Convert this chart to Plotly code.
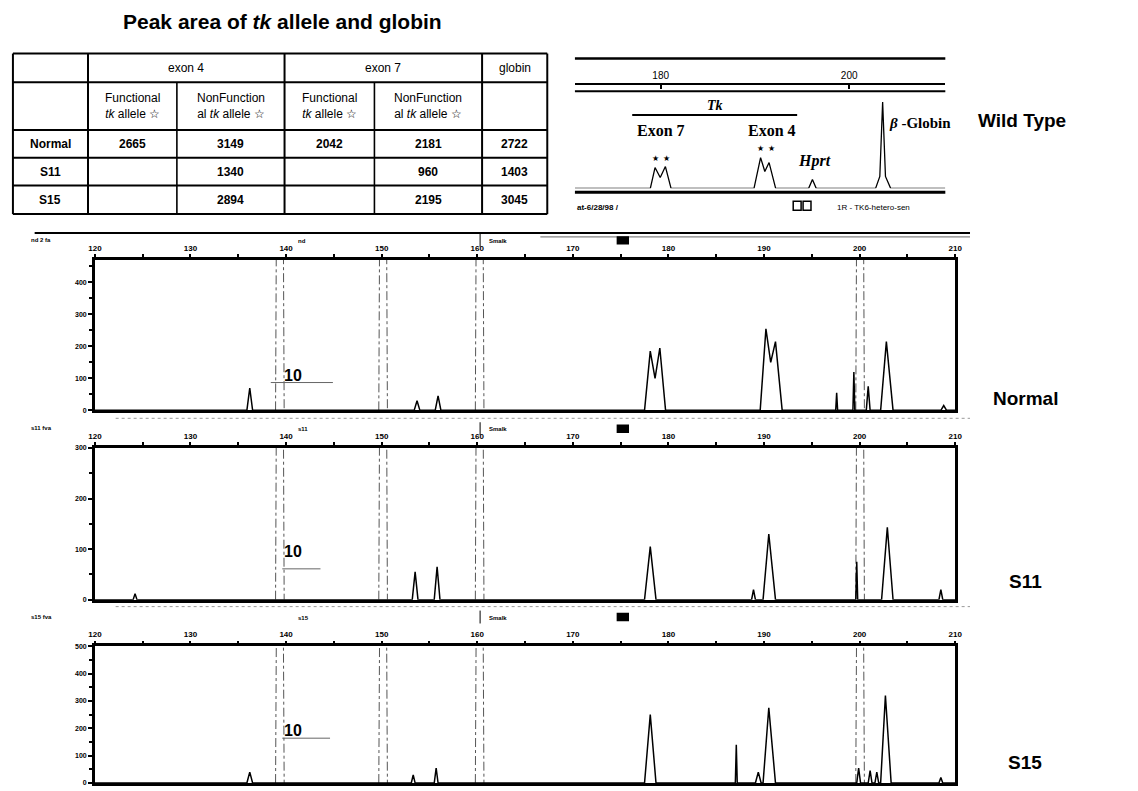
import plotly.graph_objects as go

W, H = 1138, 791
SANS = "Liberation Sans, Arial, sans-serif"
SERIF = "Liberation Serif, Times New Roman, serif"

# ---------------- table data ----------------
title_text = "Peak area of <i>tk</i> allele and globin"
group_headers = ["exon 4", "exon 7", "globin"]
sub_headers = ["Functional<br><i>tk</i> allele ☆", "NonFunction<br>al <i>tk</i> allele ☆",
               "Functional<br><i>tk</i> allele ☆", "NonFunction<br>al <i>tk</i> allele ☆", ""]
samples = ["Normal", "S11", "S15"]
exon4_functional = [2665, None, None]
exon4_nonfunctional = [3149, 1340, 2894]
exon7_functional = [2042, None, None]
exon7_nonfunctional = [2181, 960, 2195]
globin_area = [2722, 1403, 3045]

# ---------------- wild-type inset (size in bp, relative signal) ----------------
wt_size = [170.9, 178.9, 179.4, 179.95, 180.5, 181.1, 189.9, 190.6, 191.05, 191.5, 192.2,
           195.7, 196.1, 196.5, 202.8, 203.25, 203.55, 203.85, 204.4, 210.2]
wt_signal = [0, 0, 21, 11, 22, 0, 0, 31, 17, 26, 0,
             0, 9, 0, 0, 12, 87, 12, 0, 0]

# ---------------- electropherograms ----------------
normal_size = [120, 135.9, 136.2, 136.5, 153.4, 153.7, 154.0, 155.6, 155.9, 156.2,
               177.5, 178.1, 178.6, 179.1, 179.7, 189.6, 190.2, 190.7, 191.2, 191.9,
               197.5, 197.6, 197.7, 199.3, 199.4, 199.5, 200.7, 200.9, 201.1,
               202.2, 202.8, 203.5, 208.5, 208.8, 209.1, 210]
normal_signal = [0, 0, 70, 0, 0, 30, 0, 0, 45, 0,
                 0, 185, 100, 195, 0, 0, 255, 150, 215, 0,
                 0, 55, 0, 0, 120, 0, 0, 75, 0,
                 0, 215, 0, 0, 15, 0, 0]
normal_std_size = [138.9, 139.35, 139.8, None, 149.7, 150.15, 150.6, None,
                   159.8, 160.25, 160.7, None, 199.6, 200.05, 200.5]
normal_std_signal = [0, 3000, 0, None, 0, 3000, 0, None, 0, 3000, 0, None, 0, 3000, 0]

s11_size = [120, 124.0, 124.2, 124.4, 153.2, 153.5, 153.8, 155.5, 155.8, 156.1,
            177.5, 178.1, 178.7, 188.7, 188.9, 189.1, 189.9, 190.5, 191.2,
            199.6, 199.7, 199.8, 202.3, 202.9, 203.5, 208.3, 208.5, 208.7, 210]
s11_signal = [0, 0, 12, 0, 0, 55, 0, 0, 65, 0,
              0, 105, 0, 0, 20, 0, 0, 130, 0,
              0, 75, 0, 0, 143, 0, 0, 20, 0, 0]
s11_std_size = [138.9, 139.35, 139.8, None, 149.7, 150.15, 150.6, None,
                159.8, 160.25, 160.7, None, 199.6, 200.05, 200.5]
s11_std_signal = [0, 2000, 0, None, 0, 2000, 0, None, 0, 2000, 0, None, 0, 2000, 0]

s15_size = [120, 135.9, 136.2, 136.5, 153.1, 153.3, 153.5, 155.5, 155.7, 155.9,
            177.5, 178.1, 178.7, 187.0, 187.1, 187.2, 189.1, 189.4, 189.7,
            189.9, 190.5, 191.2, 199.7, 199.9, 200.1, 200.9, 201.1, 201.3,
            201.6, 201.8, 202.0, 202.2, 202.7, 203.3, 208.3, 208.5, 208.7, 210]
s15_signal = [0, 0, 40, 0, 0, 30, 0, 0, 55, 0,
              0, 250, 0, 0, 140, 0, 0, 40, 0,
              0, 275, 0, 0, 55, 0, 0, 45, 0,
              0, 40, 0, 0, 320, 0, 0, 20, 0, 0]
s15_std_size = [138.9, 139.35, 139.8, None, 149.7, 150.15, 150.6, None,
                159.8, 160.25, 160.7, None, 199.6, 200.05, 200.5]
s15_std_signal = [0, 3000, 0, None, 0, 3000, 0, None, 0, 3000, 0, None, 0, 3000, 0]

sample_names = ["Normal", "S11", "S15"]
file_tags = ["nd 2 fa", "s11 fva", "s15 fva"]
lane_tags = ["nd", "s11", "s15"]
y_max = [471, 300, 500]
marker_label = "10"
marker_y = [[108, 87], [96, 61], [193, 164]]          # label height, line height
marker_x = [[139.6, 138.4, 144.9], [139.6, 139.6, 143.6], [139.6, 139.6, 144.6]]

# ---------------- helpers ----------------
def px(x):
    return x / W

def py(y):
    return 1 - y / H

annotations = []
shapes = []

def text(x, y, s, size, bold=False, family=SANS, xanchor="center", color="black"):
    annotations.append(dict(x=px(x), y=py(y), xref="paper", yref="paper",
                            text=f"<b>{s}</b>" if bold else s, showarrow=False,
                            xanchor=xanchor, yanchor="middle",
                            font=dict(family=family, size=size, color=color)))

def hline(x0, x1, y, w=2, dash="solid", color="black"):
    shapes.append(dict(type="line", xref="paper", yref="paper", x0=px(x0), x1=px(x1),
                       y0=py(y), y1=py(y), line=dict(color=color, width=w, dash=dash)))

def vline(x, y0, y1, w=2, color="black"):
    shapes.append(dict(type="line", xref="paper", yref="paper", x0=px(x), x1=px(x),
                       y0=py(y0), y1=py(y1), line=dict(color=color, width=w)))

def rect(x0, y0, x1, y1, fill=None, w=1.5):
    shapes.append(dict(type="rect", xref="paper", yref="paper", x0=px(x0), x1=px(x1),
                       y0=py(y0), y1=py(y1), line=dict(color="black", width=w),
                       fillcolor=fill if fill else "rgba(0,0,0,0)"))

# ---------------- title & table ----------------
text(115, 18, title_text, 21, bold=True, xanchor="left")

col_x = [6, 82, 172, 281, 372, 481, 547]
row_y = [50, 79, 127, 155, 183, 212]
for yv in row_y:
    hline(col_x[0], col_x[-1], yv, w=2)
for i, xv in enumerate(col_x):
    if i in (2, 4):
        vline(xv, row_y[1], row_y[-1], w=1.6)
    else:
        vline(xv, row_y[0], row_y[-1], w=2)

TF = 12
text((col_x[1] + col_x[3]) / 2, (row_y[0] + row_y[1]) / 2, group_headers[0], TF)
text((col_x[3] + col_x[5]) / 2, (row_y[0] + row_y[1]) / 2, group_headers[1], TF)
text((col_x[5] + col_x[6]) / 2, (row_y[0] + row_y[1]) / 2, group_headers[2], TF)
for j, s in enumerate(sub_headers):
    if s:
        text((col_x[j + 1] + col_x[j + 2]) / 2, (row_y[1] + row_y[2]) / 2, s, TF)
columns = [exon4_functional, exon4_nonfunctional, exon7_functional, exon7_nonfunctional, globin_area]
for r, name in enumerate(samples):
    yc = (row_y[r + 2] + row_y[r + 3]) / 2
    text((col_x[0] + col_x[1]) / 2, yc, name, TF, bold=True)
    for j, col in enumerate(columns):
        if col[r] is not None:
            text((col_x[j + 1] + col_x[j + 2]) / 2, yc, str(col[r]), TF, bold=True)

# ---------------- figure ----------------
fig = go.Figure()

# inset
fig.add_trace(go.Scatter(x=wt_size, y=wt_signal, mode="lines", xaxis="x4", yaxis="y4",
                         line=dict(color="black", width=1.3), showlegend=False, hoverinfo="skip"))
hline(575, 950, 55, w=2.5)
hline(575, 950, 88, w=2)
hline(575, 950, 190, w=3)
hline(633, 800, 112, w=2)
text(717, 102, "<i>Tk</i>", 14, bold=True, family=SERIF)
text(662, 128, "Exon 7", 16, bold=True, family=SERIF)
text(775, 128, "Exon 4", 16, bold=True, family=SERIF)
for sx, sy in [(657, 156), (668, 156), (763, 146), (774, 146)]:
    text(sx, sy, "★", 8)
text(818, 158, "<i>Hprt</i>", 16, bold=True, family=SERIF)
text(891, 120, "<i>β</i> -Globin", 15, bold=True, family=SERIF, xanchor="left")
text(575, 205, "at-6/28/98 /", 8, bold=True, xanchor="left")
rect(796, 199, 804, 208)
rect(806, 199, 814, 208)
text(838, 205, "1R - TK6-hetero-sen", 8, xanchor="left")
text(1028, 118, "Wild Type", 19, bold=True)

# main panels
panel_geom = [(258, 410, 238, 398), (448, 601, 428, 583), (648, 786, 618, 765)]
traces = [(normal_size, normal_signal, normal_std_size, normal_std_signal),
          (s11_size, s11_signal, s11_std_size, s11_std_signal),
          (s15_size, s15_signal, s15_std_size, s15_std_signal)]
layout_axes = {}
X0, X1 = 89, 960
for i in range(3):
    top, bottom, hdr_y, lab_y = panel_geom[i]
    n = "" if i == 0 else str(i + 1)
    xs, ys, sxs, sys_ = traces[i]
    fig.add_trace(go.Scatter(x=sxs, y=sys_, mode="lines", xaxis="x" + n, yaxis="y" + n,
                             line=dict(color="#555", width=1, dash="dashdot"),
                             showlegend=False, hoverinfo="skip"))
    fig.add_trace(go.Scatter(x=xs, y=ys, mode="lines", xaxis="x" + n, yaxis="y" + n,
                             line=dict(color="black", width=1.5),
                             showlegend=False, hoverinfo="skip"))
    layout_axes["xaxis" + n] = dict(
        domain=[px(X0), px(X1)], range=[120, 210], anchor="y" + n, side="top",
        showline=True, linecolor="black", linewidth=2.5, mirror=True,
        ticks="outside", ticklen=3, tickwidth=2, tickcolor="black",
        tick0=120, dtick=10, tickfont=dict(family=SANS, size=8, color="black", weight="bold"),
        minor=dict(dtick=5, ticks="outside", ticklen=3, tickwidth=2, tickcolor="black", showgrid=False),
        showgrid=False, zeroline=False)
    layout_axes["yaxis" + n] = dict(
        domain=[py(bottom), py(top)], range=[0, y_max[i]], anchor="x" + n,
        showline=True, linecolor="black", linewidth=2.5, mirror=True,
        ticks="outside", ticklen=4, tickwidth=2, tickcolor="black",
        tick0=0, dtick=100, tickfont=dict(family=SANS, size=7, color="black", weight="bold"),
        minor=dict(dtick=50, ticks="outside", ticklen=3, tickwidth=2, tickcolor="black", showgrid=False),
        showgrid=False, zeroline=False)
    # header strip
    if i == 0:
        hline(28, 975, 231, w=2)
        hline(540, 975, 235, w=1, color="#666")
    else:
        hline(110, 975, hdr_y - 10, w=1, dash="dot", color="#999")
    text(22, hdr_y, file_tags[i], 6, bold=True, xanchor="left")
    text(293, hdr_y + 1, lane_tags[i], 6, bold=True, xanchor="left")
    vline(479, hdr_y - 6, hdr_y + 7, w=1)
    text(486, hdr_y + 1, "Smalk", 6, bold=True, xanchor="left")
    rect(618, hdr_y - 3, 629, hdr_y + 4, fill="black")
    text(1031, lab_y, sample_names[i], 19, bold=True)
    # "10" marker
    lab_h, line_h = marker_y[i]
    annotations.append(dict(x=marker_x[i][0], y=lab_h, xref="x" + n, yref="y" + n,
                            text="<b>" + marker_label + "</b>", xanchor="left",
                            showarrow=False, font=dict(family=SANS, size=16, color="black")))
    shapes.append(dict(type="line", xref="x" + n, yref="y" + n, x0=marker_x[i][1], x1=marker_x[i][2],
                       y0=line_h, y1=line_h, line=dict(color="#666", width=1)))

layout_axes["xaxis4"] = dict(
    domain=[px(575), px(950)], range=[170.9, 210.2], anchor="y4", side="top",
    showline=True, linecolor="black", linewidth=2, ticks="inside", ticklen=4, tickwidth=2,
    tickcolor="black", tick0=180, dtick=20, tickfont=dict(family=SANS, size=10, color="black"),
    showgrid=False, zeroline=False)
layout_axes["yaxis4"] = dict(domain=[py(186), py(82)], range=[0, 104], anchor="x4", visible=False)

fig.update_layout(width=W, height=H, margin=dict(l=0, r=0, t=0, b=0),
                  paper_bgcolor="white", plot_bgcolor="white",
                  annotations=annotations, shapes=shapes, showlegend=False, **layout_axes)
fig.write_html("out.html")
